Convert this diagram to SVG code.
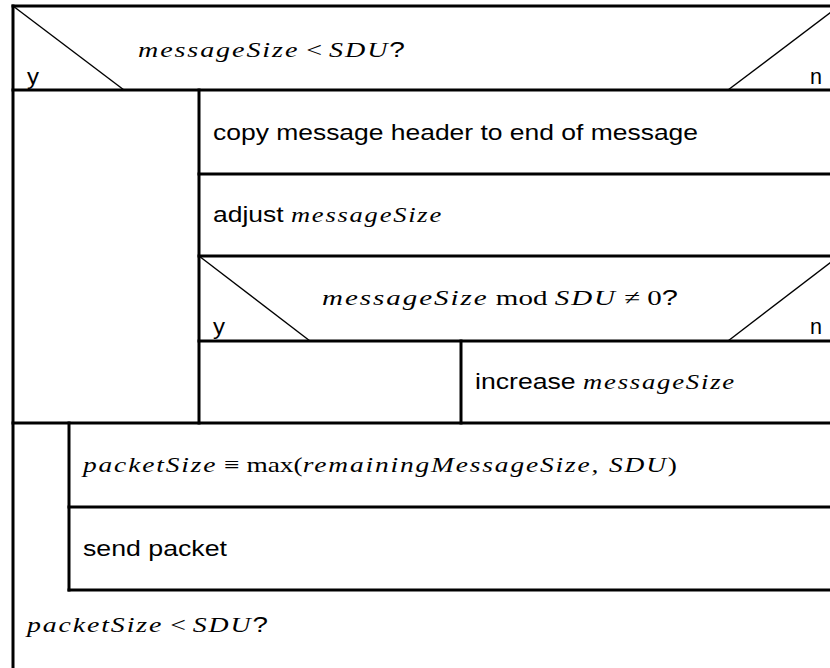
<svg xmlns="http://www.w3.org/2000/svg" width="830" height="668" viewBox="0 0 830 668">
  <style>
    .ln{stroke:#000;stroke-width:3;fill:none;stroke-linecap:square}
    .dg{stroke:#000;stroke-width:1.4;fill:none}
    .t{font-family:"Liberation Sans",Arial,Helvetica,sans-serif;font-size:22px;fill:#000}
    .mi{font-family:"Liberation Serif","Times New Roman",serif;font-style:italic;letter-spacing:1.5px}
    .mr{font-family:"Liberation Serif","Times New Roman",serif;font-style:normal;letter-spacing:0}
  </style>
  <rect width="830" height="668" fill="#fff"/>

  <!-- structogram frame lines -->
  <g id="connectors">
    <line class="ln" x1="13" y1="6" x2="832" y2="6"/>
    <line class="ln" x1="13" y1="6" x2="13" y2="670"/>
    <line class="ln" x1="13" y1="90" x2="832" y2="90"/>
    <line class="ln" x1="199" y1="90" x2="199" y2="423"/>
    <line class="ln" x1="199" y1="174" x2="832" y2="174"/>
    <line class="ln" x1="199" y1="256" x2="832" y2="256"/>
    <line class="ln" x1="199" y1="341" x2="832" y2="341"/>
    <line class="ln" x1="461" y1="341" x2="461" y2="423"/>
    <line class="ln" x1="13" y1="423" x2="832" y2="423"/>
    <line class="ln" x1="69" y1="423" x2="69" y2="590"/>
    <line class="ln" x1="69" y1="507" x2="832" y2="507"/>
    <line class="ln" x1="69" y1="590" x2="832" y2="590"/>
  </g>

  <g id="decision-size">
    <line class="dg" x1="13" y1="6" x2="124" y2="90"/>
    <line class="dg" x1="728" y1="90" x2="839" y2="6"/>
    <text class="t" x="138" y="57" textLength="267" lengthAdjust="spacingAndGlyphs"><tspan class="mi">messageSize</tspan><tspan class="mr"> &lt; </tspan><tspan class="mi">SDU</tspan>?</text>
    <text class="t" x="27" y="84" textLength="12" lengthAdjust="spacingAndGlyphs">y</text>
    <text class="t" x="810" y="84" textLength="12" lengthAdjust="spacingAndGlyphs">n</text>
  </g>

  <g id="copy-header">
    <text class="t" x="213" y="140" textLength="485" lengthAdjust="spacingAndGlyphs">copy message header to end of message</text>
  </g>

  <g id="adjust-size">
    <text class="t" x="213" y="222" textLength="230" lengthAdjust="spacingAndGlyphs">adjust <tspan class="mi">messageSize</tspan></text>
  </g>

  <g id="decision-mod">
    <line class="dg" x1="199" y1="256" x2="310" y2="341"/>
    <line class="dg" x1="728" y1="341" x2="839" y2="256"/>
    <text class="t" x="322" y="305" textLength="356" lengthAdjust="spacingAndGlyphs"><tspan class="mi">messageSize</tspan><tspan class="mr">  mod  </tspan><tspan class="mi">SDU</tspan><tspan class="mr"> ≠ 0</tspan>?</text>
    <text class="t" x="213" y="334" textLength="12" lengthAdjust="spacingAndGlyphs">y</text>
    <text class="t" x="810" y="334" textLength="12" lengthAdjust="spacingAndGlyphs">n</text>
  </g>

  <g id="increase-size">
    <text class="t" x="475" y="389" textLength="261" lengthAdjust="spacingAndGlyphs">increase <tspan class="mi">messageSize</tspan></text>
  </g>

  <g id="packet-size">
    <text class="t" x="83" y="472" textLength="594" lengthAdjust="spacingAndGlyphs"><tspan class="mi">packetSize</tspan><tspan class="mr"> ≡ max(</tspan><tspan class="mi">remainingMessageSize, SDU</tspan><tspan class="mr">)</tspan></text>
  </g>

  <g id="send-packet">
    <text class="t" x="83" y="556" textLength="144" lengthAdjust="spacingAndGlyphs">send packet</text>
  </g>

  <g id="loop-condition">
    <text class="t" x="27" y="632" textLength="241" lengthAdjust="spacingAndGlyphs"><tspan class="mi">packetSize</tspan><tspan class="mr"> &lt; </tspan><tspan class="mi">SDU</tspan>?</text>
  </g>
</svg>
